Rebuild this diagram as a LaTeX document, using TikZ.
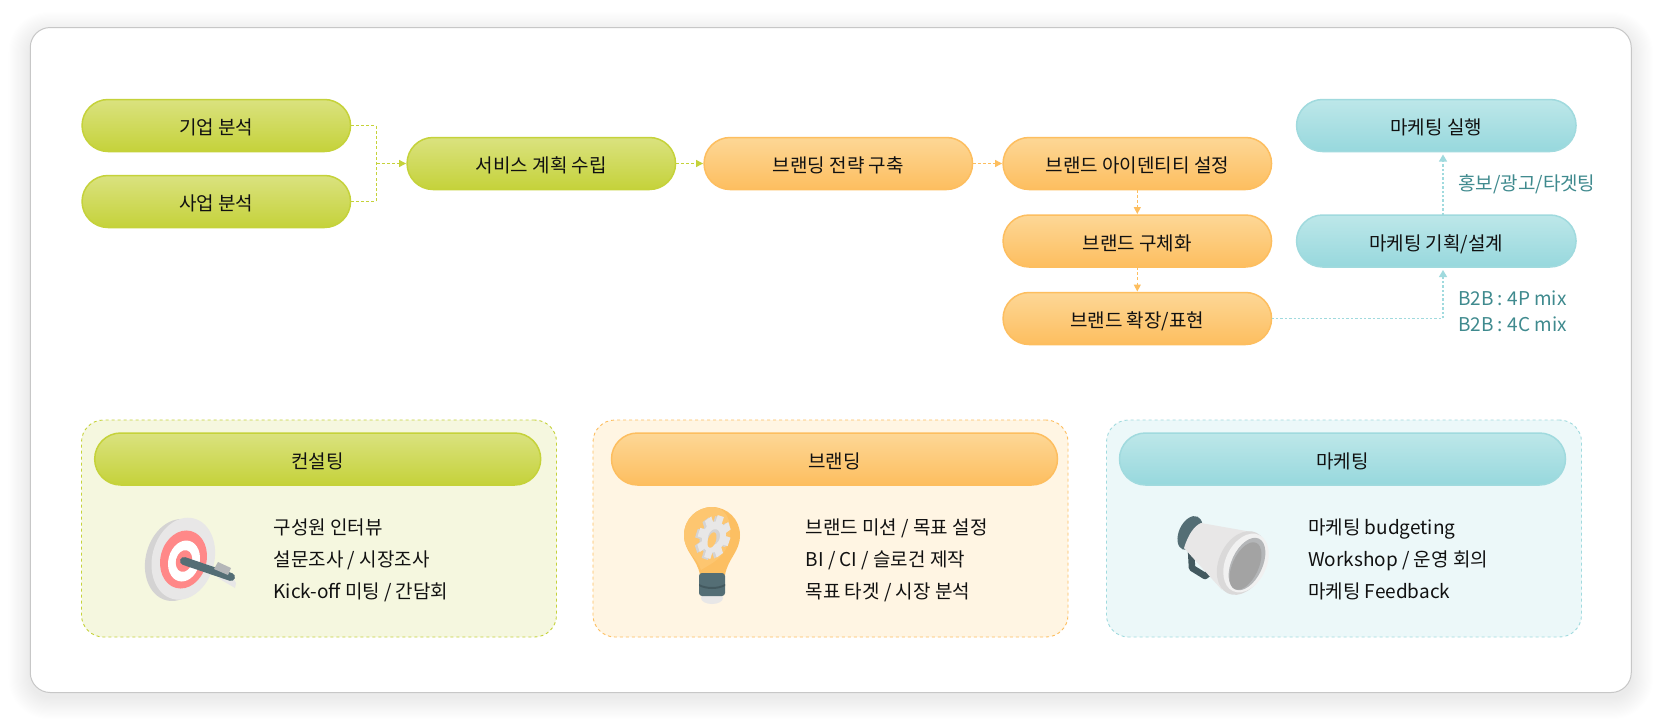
\documentclass[tikz,border=0pt]{standalone}
\usepackage{fontspec}
\setmainfont{Noto Sans CJK KR}
\usetikzlibrary{arrows.meta}
\definecolor{gTop}{HTML}{DAE27F}\definecolor{gBot}{HTML}{C5D23A}\definecolor{gLine}{HTML}{C5D23A}
\definecolor{oTop}{HTML}{FDD796}\definecolor{oBot}{HTML}{FDBE5F}\definecolor{oLine}{HTML}{FDBE5F}
\definecolor{tTop}{HTML}{BDE7E9}\definecolor{tBot}{HTML}{97D8DD}\definecolor{tLine}{HTML}{A0DADE}
\definecolor{gPanel}{HTML}{F5F7DF}\definecolor{oPanel}{HTML}{FFF5E3}\definecolor{tPanel}{HTML}{ECF8F9}
\definecolor{labelTeal}{HTML}{3F8A8E}\definecolor{ink}{HTML}{111111}
\definecolor{slate}{HTML}{546E75}\definecolor{slateD}{HTML}{43595F}
\definecolor{lgA}{HTML}{E8E7E7}\definecolor{lgB}{HTML}{D4D3D3}\definecolor{lgC}{HTML}{B4B6B8}\definecolor{lgD}{HTML}{A3A3A3}
\definecolor{tred}{HTML}{FF8888}\definecolor{bulb}{HTML}{FDC670}\definecolor{bulbD}{HTML}{FCBF62}
\tikzset{
  x=1pt,y=-1pt,
  pill/.style={draw,line width=1.5pt,inner sep=0pt,outer sep=0pt,minimum height=52pt,rounded corners=26pt,
    font=\fontsize{19}{22}\selectfont,text=ink,text height=20pt,text depth=1.6pt},
  wide/.style={minimum width=268.5pt},
  green/.style={pill,draw=gLine,top color=gTop,bottom color=gBot},
  orange/.style={pill,draw=oLine,top color=oTop,bottom color=oBot},
  teal/.style={pill,draw=tLine,top color=tTop,bottom color=tBot},
  panel/.style={draw,dashed,line width=.9pt,inner sep=0pt,minimum width=475pt,minimum height=217pt,rounded corners=22pt},
  listitem/.style={anchor=west,inner sep=0pt,font=\fontsize{19}{22}\selectfont,text=ink,text height=16pt,text depth=2pt},
  side/.style={anchor=west,inner sep=0pt,font=\fontsize{19}{22}\selectfont,text=labelTeal,text height=16pt,text depth=2pt},
  flow/.style={line width=1.1pt,dash pattern=on 3pt off 2.2pt,-{Triangle[length=7pt,width=7pt]},shorten >=1pt},
  flowplain/.style={line width=1.1pt,dash pattern=on 3pt off 2.2pt},
  softflow/.style={line width=1.2pt,dash pattern=on 2.4pt off 2pt,-{Triangle[length=7pt,width=8pt]},shorten >=3pt},
}
\begin{document}
\begin{tikzpicture}
\useasboundingbox (0,0) rectangle (1662,726);
\fill[white] (0,0) rectangle (1662,726);
% soft shadow
\foreach \i in {1,...,20}{
  \fill[black,opacity=.0025,rounded corners={20pt+\i pt}] ({30.5-1.1*\i},{34-1.1*\i}) rectangle ({1631+1.1*\i},{697+1.1*\i});
}
\node[draw=black!22,fill=white,line width=1pt,inner sep=0pt,minimum width=1601pt,minimum height=665pt,rounded corners=20pt] (card) at (830.75,360) {};

% panels
\node[panel,draw=gLine,fill=gPanel] (p1) at (319,528.5) {};
\node[panel,draw=oLine,fill=oPanel] (p2) at (830.5,528.5) {};
\node[panel,draw=tLine,fill=tPanel] (p3) at (1344,528.5) {};
\node[green,minimum width=446pt] (h1) at (317.7,459) {컨설팅};
\node[orange,minimum width=446pt] (h2) at (834.5,459) {브랜딩};
\node[teal,minimum width=446pt] (h3) at (1342.5,459) {마케팅};

% flow nodes
\node[green,wide] (a1) at (216.3,125.5) {기업 분석};
\node[green,wide] (a2) at (216.3,201.5) {사업 분석};
\node[green,wide] (svc) at (541.3,163.5) {서비스 계획 수립};
\node[orange,wide] (b1) at (838.3,163.5) {브랜딩 전략 구축};
\node[orange,wide] (b2) at (1137.3,163.5) {브랜드 아이덴티티 설정};
\node[orange,wide] (b3) at (1137.3,241) {브랜드 구체화};
\node[orange,wide] (b4) at (1137.3,318.5) {브랜드 확장/표현};
\node[teal,minimum width=279.5pt] (m1) at (1436.3,125.5) {마케팅 실행};
\node[teal,minimum width=279.5pt] (m2) at (1436.3,241) {마케팅 기획/설계};

\coordinate (jn) at (376.5,163.5);
\coordinate (mx) at (1443,0);
\draw[flowplain,draw=gLine] (a1.east) -| (jn);
\draw[flowplain,draw=gLine] (a2.east) -| (jn);
\draw[flow,draw=gLine] (jn) -- (svc.west);
\draw[flow,draw=gLine] (svc.east) -- (b1.west);
\draw[flow,draw=oLine] (b1.east) -- (b2.west);
\draw[flow,draw=oLine] (b2.south) -- (b3.north);
\draw[flow,draw=oLine] (b3.south) -- (b4.north);
\draw[softflow,draw=tLine] (b4.east) -| (m2.south -| mx);
\draw[softflow,draw=tLine] (m2.north -| mx) -- (m1.south -| mx);

% side labels
\node[side] (s1) at (1458,183.5) {홍보/광고/타겟팅};
\node[side] (s2) at (1458,298.5) {B2B : 4P mix};
\node[side] (s3) at (1458,324.5) {B2B : 4C mix};

% lists
\node[listitem] (l11) at (273.5,527) {구성원 인터뷰};
\node[listitem] (l12) at (273.5,559) {설문조사 / 시장조사};
\node[listitem] (l13) at (273.5,591) {Kick-off 미팅 / 간담회};
\node[listitem] (l21) at (805.5,527) {브랜드 미션 / 목표 설정};
\node[listitem] (l22) at (805.5,559) {BI / CI / 슬로건 제작};
\node[listitem] (l23) at (805.5,591) {목표 타겟 / 시장 분석};
\node[listitem] (l31) at (1308,527) {마케팅 budgeting};
\node[listitem] (l32) at (1308,559) {Workshop / 운영 회의};
\node[listitem] (l33) at (1308,591) {마케팅 Feedback};

% target icon
\fill[lgB] (176.7,560) circle [x radius=31pt,y radius=41.6pt,rotate=-15];
\fill[lgA] (183.3,558.7) circle [x radius=31pt,y radius=41.6pt,rotate=-15];
\fill[tred] (183.5,559.5) circle [x radius=23pt,y radius=29.4pt,rotate=-15];
\fill[white] (184,561) circle [x radius=15.6pt,y radius=20.8pt,rotate=-15];
\fill[tred] (184,561) circle [x radius=8pt,y radius=11pt,rotate=-15];
\fill[lgA] (218,578) -- (235,588) -- (236,583) -- (232,575) -- cycle;
\draw[slate,line width=8pt,line cap=round] (184,561) -- (231,577);
\fill[lgC] (218,562) -- (231,568) -- (228,575) -- (214,569) -- cycle;

% bulb icon
\fill[lgA] (712,598) circle [x radius=11pt,y radius=6pt];
\fill[bulbD] (684,535) arc[start angle=180,end angle=0,radius=28pt]
  .. controls (740,552) and (728,558) .. (725,575) -- (700,575) .. controls (697,558) and (684,552) .. (684,535) -- cycle;
\fill[bulb] (684,535) .. controls (684,518) and (698,507) .. (712,507) .. controls (725,507) and (732,520) .. (730,535)
  .. controls (728,558) and (708,565) .. (701,570) .. controls (697,556) and (684,552) .. (684,535) -- cycle;
\fill[slate,rounded corners=3pt] (699,573) rectangle (725,596);
\fill[slateD] (699,584) .. controls (706,588) and (718,588) .. (725,584) -- (725,586) .. controls (718,590) and (706,590) .. (699,586) -- cycle;
\begin{scope}[shift={(711.5,538)},rotate=-18,xscale=.72]
  \foreach \a in {0,45,...,315}{\fill[lgB,rotate=\a] (-4.5,-22) rectangle (4.5,-14);}
  \fill[lgB] (0,0) circle [radius=16pt];
\end{scope}
\begin{scope}[shift={(714,537)},rotate=-18,xscale=.72]
  \foreach \a in {0,45,...,315}{\fill[lgA,rotate=\a] (-4.5,-22) rectangle (4.5,-14);}
  \fill[lgA] (0,0) circle [radius=16pt];
  \fill[lgB] (0,0) circle [radius=8pt];
\end{scope}
\fill[bulb] (712,540) circle [x radius=4pt,y radius=8pt,rotate=-18];

% megaphone icon
\draw[slateD,line width=6.5pt,line join=round,line cap=round] (1191,550) -- (1192,568) -- (1205,576) -- (1209,573);
\fill[slate] (1190,533) circle [x radius=11pt,y radius=18pt,rotate=-25];
\fill[lgA] (1184,548) .. controls (1188,535) and (1194,526) .. (1201,523) -- (1252,532) -- (1222,590) -- cycle;
\fill[lgB!70!lgA] (1242,563) circle [x radius=23pt,y radius=33.5pt,rotate=-25];
\fill[white!40!lgA] (1246,563) circle [x radius=20.5pt,y radius=31pt,rotate=-25];
\fill[lgC] (1247,564) circle [x radius=15.5pt,y radius=28pt,rotate=-25];
\fill[lgD] (1245.5,566) circle [x radius=13pt,y radius=25.5pt,rotate=-25];
\end{tikzpicture}
\end{document}
